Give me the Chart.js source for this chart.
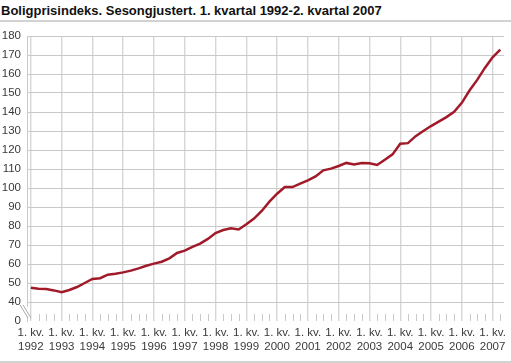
<!DOCTYPE html>
<html>
<head>
<meta charset="utf-8">
<script src="https://cdn.jsdelivr.net/npm/chart.js@4.4.0/dist/chart.umd.min.js"></script>
<style>
  html, body { margin: 0; padding: 0; background: #fff; }
  #wrap { position: relative; width: 511px; height: 363px; overflow: hidden; }
  #title { position: absolute; left: 1px; top: 3px; font: bold 13px "Liberation Sans", sans-serif; color: #111; white-space: nowrap; }
  .rule { position: absolute; left: 0; width: 511px; height: 2px; background: #d2d2d2; }
  canvas { position: absolute; left: 0; top: 0; }
</style>
</head>
<body>
<div id="wrap">
  <div id="title">Boligprisindeks. Sesongjustert. 1. kvartal 1992-2. kvartal 2007</div>
  <div class="rule" style="top:20px"></div>
  <canvas id="chart" width="511" height="363"></canvas>
  <div class="rule" style="top:361px"></div>
</div>
<script>
// Years that get a "1. kv." label on the x axis
const years = [1992, 1993, 1994, 1995, 1996, 1997, 1998, 1999,
               2000, 2001, 2002, 2003, 2004, 2005, 2006, 2007];

// Quarterly index values, 1. kv. 1992 to 2. kv. 2007
const values = [
  47.5, 47.0, 46.8, 46.1,   // 1992
  45.1, 46.3, 47.9, 50.0,   // 1993
  52.1, 52.5, 54.4, 54.9,   // 1994
  55.6, 56.5, 57.7, 59.1,   // 1995
  60.2, 61.2, 63.0, 65.8,   // 1996
  67.0, 69.0, 70.7, 73.2,   // 1997
  76.3, 77.9, 78.8, 78.2,   // 1998
  80.9, 83.9, 87.9, 92.8,   // 1999
  97.0, 100.5, 100.5, 102.3, // 2000
  104.0, 106.1, 109.3, 110.2, // 2001
  111.6, 113.2, 112.4, 113.2, // 2002
  113.0, 112.1, 114.9, 117.7, // 2003
  123.3, 123.6, 127.3, 130.0, // 2004
  132.6, 134.9, 137.3, 140.1, // 2005
  144.8, 151.3, 156.9, 163.2, // 2006
  168.8, 172.8                // 2007
];

// y ticks: the axis is broken between 0 and 40, so the lowest tick stands for 0
const yTickValues = [30, 40, 50, 60, 70, 80, 90, 100, 110, 120, 130, 140, 150, 160, 170, 180];
const yTickLabels = ['0', '40', '50', '60', '70', '80', '90', '100', '110', '120', '130', '140', '150', '160', '170', '180'];

const lineColor = '#a11a2a';
const gridColor = '#c9c9c9';
const tickFont = { family: '"Liberation Sans", sans-serif', size: 11.5 };

// short quarter ticks along the bottom plus the "\\" axis break
const extras = {
  id: 'extras',
  beforeDatasetsDraw(chart) {
    const { ctx, chartArea, scales: { x, y } } = chart;
    ctx.save();
    ctx.strokeStyle = gridColor;
    ctx.lineWidth = 1;
    values.forEach((v, i) => {
      if (i % 4 === 0) return;
      const px = Math.round(x.getPixelForValue(i)) + 0.5;
      ctx.beginPath();
      ctx.moveTo(px, chartArea.bottom);
      ctx.lineTo(px, chartArea.bottom - 7);
      ctx.stroke();
    });

    const top = y.getPixelForValue(38.5);
    const bot = y.getPixelForValue(31.5);
    const lx = chartArea.left;
    ctx.fillStyle = '#fff';
    ctx.fillRect(lx - 2, top + 2, 4, bot - top - 4);
    ctx.strokeStyle = '#aaaaaa';
    ctx.lineWidth = 1;
    [0, 3].forEach(off => {
      ctx.beginPath();
      ctx.moveTo(lx - 7 + off, top);
      ctx.lineTo(lx + 1 + off, bot);
      ctx.stroke();
    });
    ctx.restore();
  }
};

new Chart(document.getElementById('chart'), {
  type: 'line',
  data: {
    datasets: [{
      data: values.map((v, i) => ({ x: i, y: v })),
      borderColor: lineColor,
      borderWidth: 2.5,
      pointRadius: 0,
      tension: 0,
      fill: false
    }]
  },
  options: {
    responsive: false,
    animation: false,
    layout: { padding: { top: 36, right: 4, left: 0, bottom: 0 } },
    plugins: {
      legend: { display: false },
      tooltip: { enabled: false },
      title: { display: false }
    },
    scales: {
      x: {
        type: 'linear',
        min: -0.5,
        max: 61.5,
        afterBuildTicks: scale => {
          scale.ticks = years.map((yr, k) => ({ value: k * 4 }));
        },
        afterFit: scale => { scale.height = 42; },
        border: { display: false },
        grid: { color: '#d6d6d6', lineWidth: 1.4, drawTicks: false },
        ticks: {
          autoSkip: false,
          maxRotation: 0,
          padding: 5,
          color: '#3a3a3a',
          font: tickFont,
          callback: value => ['1. kv.', String(years[value / 4])]
        }
      },
      y: {
        min: 30,
        max: 180,
        afterBuildTicks: scale => {
          scale.ticks = yTickValues.map(v => ({ value: v }));
        },
        afterFit: scale => { scale.width = 27; },
        border: { display: true, color: gridColor },
        grid: {
          drawTicks: false,
          color: ctx => (ctx.tick && ctx.tick.value === 30 ? 'rgba(0,0,0,0)' : gridColor)
        },
        ticks: {
          padding: 6,
          color: '#3a3a3a',
          font: tickFont,
          callback: value => yTickLabels[yTickValues.indexOf(value)]
        }
      }
    }
  },
  plugins: [extras]
});
</script>
</body>
</html>
